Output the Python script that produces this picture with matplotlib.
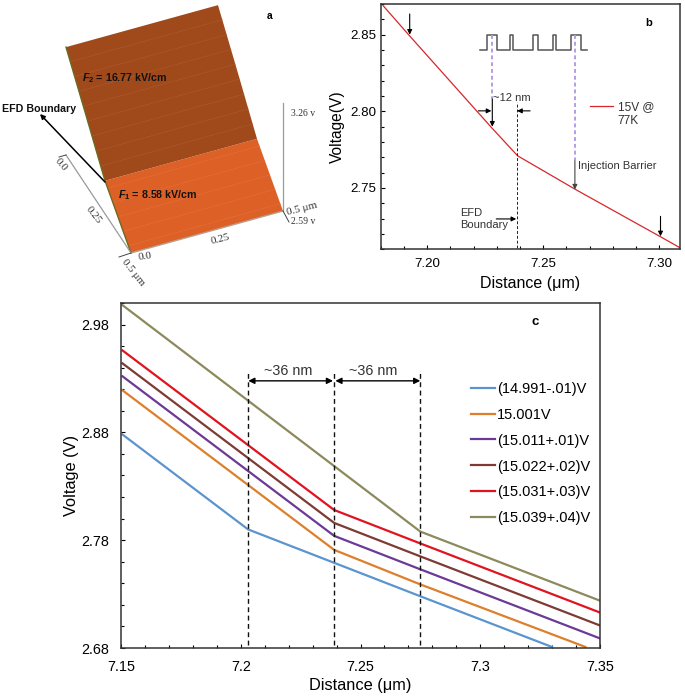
import matplotlib
matplotlib.use("Agg")
import matplotlib.pyplot as plt
import numpy as np
from matplotlib.patches import Polygon
from matplotlib.ticker import FixedLocator, MultipleLocator

plt.rcParams["font.family"] = ["Liberation Sans", "DejaVu Sans"]
plt.rcParams["mathtext.fontset"] = "custom"
plt.rcParams["mathtext.rm"] = "Liberation Sans"
plt.rcParams["mathtext.it"] = "Liberation Sans:italic"
plt.rcParams["mathtext.bf"] = "Liberation Sans:bold"
plt.rcParams["mathtext.bfit"] = "Liberation Sans:italic:bold"

W, H = 685, 697

# panel a: surface profile, depth (um) vs voltage
depth_a = [0.0, 0.2, 0.35, 0.5]
volt_a = [2.59, 2.795, 3.03, 3.26]
width_a = [0.0, 0.5]
split_a = 1

# panel b
dist_b = [7.181, 7.192, 7.228, 7.239, 7.264, 7.302, 7.309]
volt_b = [2.869, 2.85, 2.789, 2.771, 2.749, 2.717, 2.711]
comb_x = [7.2229, 7.2258, 7.2258, 7.2301, 7.2301, 7.2358, 7.2358, 7.2372, 7.2372,
          7.2456, 7.2456, 7.248, 7.248, 7.2544, 7.2544, 7.2556, 7.2556, 7.2619,
          7.2619, 7.2662, 7.2662, 7.269]
comb_y = [2.84, 2.84, 2.85, 2.85, 2.84, 2.84, 2.85, 2.85, 2.84,
          2.84, 2.85, 2.85, 2.84, 2.84, 2.85, 2.85, 2.84, 2.84,
          2.85, 2.85, 2.84, 2.84]

# panel c
labels_c = ["(14.991-.01)V", "15.001V", "(15.011+.01)V", "(15.022+.02)V",
            "(15.031+.03)V", "(15.039+.04)V"]
colors_c = ["#5b94cf", "#dd7f2b", "#6b3a96", "#7d3b34", "#e0141f", "#8c8a5c"]
dist_blue = [7.1505, 7.203, 7.239, 7.275, 7.33]
volt_blue = [2.878, 2.79, 2.759, 2.728, 2.681]
dist_orange = [7.1505, 7.239, 7.275, 7.344]
volt_orange = [2.919, 2.771, 2.739, 2.681]
dist_purple = [7.1505, 7.239, 7.275, 7.35]
volt_purple = [2.932, 2.784, 2.753, 2.689]
dist_brown = [7.1505, 7.239, 7.275, 7.35]
volt_brown = [2.944, 2.796, 2.765, 2.701]
dist_red = [7.1505, 7.239, 7.275, 7.35]
volt_red = [2.956, 2.808, 2.777, 2.713]
dist_olive = [7.1505, 7.275, 7.35]
volt_olive = [2.998, 2.788, 2.724]

fig = plt.figure(figsize=(W / 100, H / 100), dpi=100)


def add_axes_px(left, top, right, bottom):
    return fig.add_axes([left / W, 1 - bottom / H, (right - left) / W, (bottom - top) / H])


def style_ticks(ax, size, xpad, ypad):
    ax.tick_params(which="major", direction="in", length=3.2, width=0.8, labelsize=size)
    ax.tick_params(which="minor", direction="in", length=2, width=0.8)
    ax.tick_params(axis="x", which="major", pad=xpad)
    ax.tick_params(axis="y", which="major", pad=ypad)
    for s in ax.spines.values():
        s.set_color("#333333")
        s.set_linewidth(1.1)


def arrow(ax, start, end, color="black", lw=0.8, style="-|>", scale=7):
    ax.annotate("", xy=end, xytext=start, arrowprops=dict(
        arrowstyle=style, color=color, lw=lw, shrinkA=0, shrinkB=0, mutation_scale=scale))


# panel a, drawn on a pixel canvas through a small projection
ax_a = fig.add_axes([0, 0, 1, 1])
ax_a.set_xlim(0, W)
ax_a.set_ylim(H, 0)
ax_a.axis("off")


def project(width, depth, volt):
    x = 131 + 304 * width - 130 * depth
    y = 253 - 84 * width - 196 * depth - 161 * (volt - 2.59)
    return x, y


def sheet(i0, i1, color):
    pts = [project(width_a[0], depth_a[i], volt_a[i]) for i in range(i0, i1 + 1)]
    pts += [project(width_a[1], depth_a[i], volt_a[i]) for i in range(i1, i0 - 1, -1)]
    ax_a.add_patch(Polygon(pts, closed=True, fc=color, ec="none"))


sheet(0, split_a, "#dd6127")
sheet(split_a, len(depth_a) - 1, "#a04a1c")

for frac in np.linspace(0.1, 0.9, 5):
    d = frac * depth_a[split_a]
    v = np.interp(d, depth_a, volt_a)
    xs, ys = zip(project(0, d, v), project(0.5, d, v))
    ax_a.plot(xs, ys, color="#e3703a", lw=0.4)
for frac in np.linspace(0.11, 0.89, 8):
    d = depth_a[split_a] + frac * (depth_a[-1] - depth_a[split_a])
    v = np.interp(d, depth_a, volt_a)
    xs, ys = zip(project(0, d, v), project(0.5, d, v))
    ax_a.plot(xs, ys, color="#ad5a2c", lw=0.4)

edge = [project(0, d, v) for d, v in zip(depth_a, volt_a)]
ax_a.plot(*zip(*edge), color="#6b6a20", lw=1)
xs, ys = zip(project(0, 0, 2.59), project(0.5, 0, 2.59))
ax_a.plot(xs, ys, color="#b8a090", lw=1)

# axis lines of the 3D box
grey = "#9a9a9a"
ax_a.plot(*zip(project(0, 0, 2.59), project(0, 0.5, 2.59)), color=grey, lw=0.9)
ax_a.plot(*zip(project(0.5, 0, 2.59), project(0.5, 0, 3.26)), color=grey, lw=0.9)
ax_a.plot([59, 66], [157, 155], color="#444444", lw=0.7)
ax_a.plot([119, 131], [257, 253], color="#444444", lw=0.7)
ax_a.plot([283, 289], [211, 222], color="#444444", lw=0.7)

serif = "Liberation Serif"
ax_a.text(61, 165, "0.0", family=serif, fontsize=8, rotation=-50, ha="center", va="center", color="#333333")
ax_a.text(94, 215, "0.25", family=serif, fontsize=8, rotation=-52, ha="center", va="center", color="#333333")
ax_a.text(133, 272, "0.5 μm", family=serif, fontsize=8, rotation=-52, ha="center", va="center", color="#333333")
ax_a.text(145, 257, "0.0", family=serif, fontsize=8, rotation=8, ha="center", va="center", color="#333333")
ax_a.text(220, 239, "0.25", family=serif, fontsize=8, rotation=14, ha="center", va="center", color="#333333")
ax_a.text(302, 209, "0.5 μm", family=serif, fontsize=8, rotation=14, ha="center", va="center", color="#333333")
ax_a.text(303, 113, "3.26 v", family=serif, fontsize=7, ha="center", va="center", color="#333333")
ax_a.text(303, 222, "2.59 v", family=serif, fontsize=7, ha="center", va="center", color="#333333")

ax_a.text(82, 78, r"$\mathbfit{F}_{\mathbf{2}}$ = 16.77 kV/cm", fontsize=7.7, fontweight="bold", va="center", color="#111111")
ax_a.text(118, 195, r"$\mathbfit{F}_{\mathbf{1}}$ = 8.58 kV/cm", fontsize=7.7, fontweight="bold", va="center", color="#111111")
ax_a.text(2, 109, "EFD Boundary", fontsize=7.7, fontweight="bold", va="center", color="#111111")
ax_a.text(270, 16, "a", fontsize=7.5, fontweight="bold", ha="center", va="center")
arrow(ax_a, (105, 182), (40, 114), lw=1.1, scale=7)

# panel b
ax_b = add_axes_px(380.7, 4, 680, 249.3)
ax_b.set_xlim(7.18, 7.309)
ax_b.set_ylim(2.71, 2.87)
ax_b.plot(dist_b, volt_b, color="#d9262c", lw=0.9)
ax_b.plot(comb_x, comb_y, color="#555555", lw=1.1)
ax_b.xaxis.set_major_locator(FixedLocator([7.20, 7.25, 7.30]))
ax_b.xaxis.set_major_formatter(lambda v, p: f"{v:.2f}")
ax_b.xaxis.set_minor_locator(MultipleLocator(0.01))
ax_b.yaxis.set_major_locator(FixedLocator([2.75, 2.80, 2.85]))
ax_b.yaxis.set_major_formatter(lambda v, p: f"{v:.2f}")
ax_b.yaxis.set_minor_locator(MultipleLocator(0.01))
style_ticks(ax_b, 9.6, 6.5, 3)
ax_b.set_xlabel("Distance (μm)", fontsize=11.5, labelpad=4)
ax_b.set_ylabel("Voltage(V)", fontsize=11.2, labelpad=4)

ax_b.plot([7.2281, 7.2281], [2.85, 2.808], color="#b39ee8", ls="--", lw=1.4, dashes=(2, 1.5))
ax_b.plot([7.2637, 7.2637], [2.85, 2.768], color="#b39ee8", ls="--", lw=1.4, dashes=(2, 1.5))
ax_b.plot([7.2386, 7.2386], [2.711, 2.806], color="#222222", ls="--", lw=0.7, dashes=(3, 2))
arrow(ax_b, (7.2281, 2.808), (7.2281, 2.79))
arrow(ax_b, (7.2637, 2.768), (7.2637, 2.749), color="#444444")
arrow(ax_b, (7.1925, 2.8635), (7.1925, 2.85))
arrow(ax_b, (7.3006, 2.7315), (7.3006, 2.7185))
arrow(ax_b, (7.2221, 2.8003), (7.2277, 2.8003))
arrow(ax_b, (7.2444, 2.8003), (7.2388, 2.8003))
arrow(ax_b, (7.2298, 2.7298), (7.2384, 2.7298))
ax_b.text(7.2285, 2.8085, "~12 nm", fontsize=8, va="center", color="#333333")
ax_b.text(7.265, 2.7645, "Injection Barrier", fontsize=8, va="center", color="#333333")
ax_b.text(7.2143, 2.7296, "EFD\nBoundary", fontsize=8, va="center", color="#333333", linespacing=1.25)
ax_b.text(7.2821, 2.7984, "15V @\n77K", fontsize=8.6, va="center", color="#333333", linespacing=1.2)
ax_b.plot([7.2702, 7.2801], [2.8036, 2.8036], color="#d9262c", lw=0.9)
ax_b.text(7.2956, 2.8576, "b", fontsize=8, fontweight="bold", ha="center", va="center")

# panel c
ax_c = add_axes_px(121.3, 303, 599.7, 648)
ax_c.set_xlim(7.15, 7.35)
ax_c.set_ylim(2.68, 3.0)
series_c = [(dist_blue, volt_blue), (dist_orange, volt_orange), (dist_purple, volt_purple),
            (dist_brown, volt_brown), (dist_red, volt_red), (dist_olive, volt_olive)]
for (xs, ys), c, lab in zip(series_c, colors_c, labels_c):
    ax_c.plot(xs, ys, color=c, lw=1.6, label=lab)
ax_c.xaxis.set_major_locator(FixedLocator([7.15, 7.2, 7.25, 7.3, 7.35]))
ax_c.xaxis.set_major_formatter(lambda v, p: f"{v:.2f}".rstrip("0"))
ax_c.xaxis.set_minor_locator(MultipleLocator(0.01))
ax_c.yaxis.set_major_locator(FixedLocator([2.68, 2.78, 2.88, 2.98]))
ax_c.yaxis.set_major_formatter(lambda v, p: f"{v:.2f}")
ax_c.yaxis.set_minor_locator(MultipleLocator(0.02))
style_ticks(ax_c, 10.4, 8.4, 9)
ax_c.set_xlabel("Distance (μm)", fontsize=11.8, labelpad=3)
ax_c.set_ylabel("Voltage (V)", fontsize=11.8, labelpad=1.6)
ax_c.legend(loc="upper left", bbox_to_anchor=(0.7318, 0.772), frameon=False, fontsize=10.5,
            handlelength=1.65, handletextpad=0.11, labelspacing=0.82, borderaxespad=0, borderpad=0)

for xv in [7.2031, 7.239, 7.275]:
    ax_c.plot([xv, xv], [2.683, 2.937], color="#111111", ls="--", lw=1, dashes=(3.5, 2.5))
for x0, x1 in [(7.2031, 7.2385), (7.2395, 7.275)]:
    arrow(ax_c, (x0, 2.9278), (x1, 2.9278), style="<|-|>", lw=1, scale=9)
ax_c.text(7.2196, 2.937, "~36 nm", fontsize=10.4, ha="center", va="center", color="#333333")
ax_c.text(7.2553, 2.937, "~36 nm", fontsize=10.4, ha="center", va="center", color="#333333")
ax_c.text(7.323, 2.9826, "c", fontsize=9.5, fontweight="bold", ha="center", va="center")

fig.savefig("out.png", dpi=100)
